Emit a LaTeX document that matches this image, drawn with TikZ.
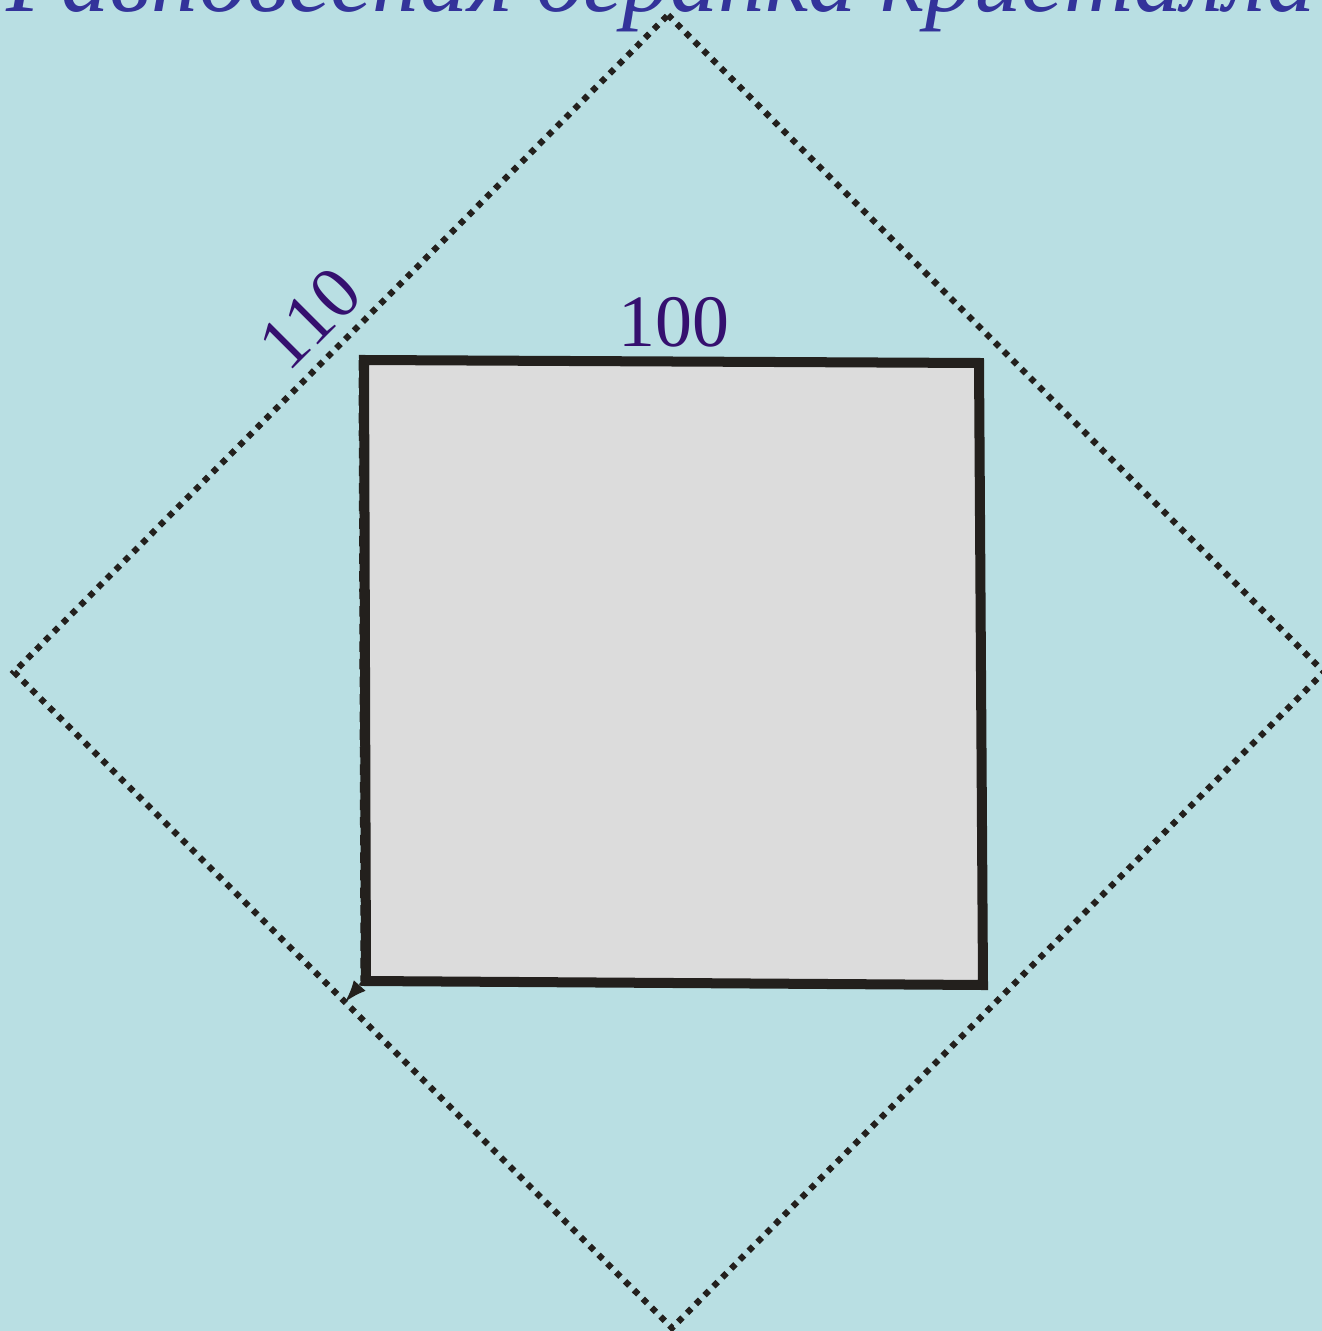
\documentclass[tikz,border=0pt]{standalone}
\usepackage{fontspec}
\setmainfont{Liberation Serif}
\usepackage{xcolor}
\usetikzlibrary{arrows.meta,calc}
\definecolor{cBack}{HTML}{B9DFE3}
\definecolor{cFace}{HTML}{DCDCDC}
\definecolor{cEdge}{HTML}{23201D}
\definecolor{cTitle}{HTML}{33339A}
\definecolor{cIdx}{HTML}{35106F}
\tikzset{
  face/.style  ={draw=cEdge, fill=cFace, line width=1mm, line join=miter},
  habit/.style ={draw=cEdge, line width=0.62mm, dash pattern=on 0.6mm off 0.65mm},
  idx/.style   ={text=cIdx, font=\fontsize{21}{21}\selectfont, inner sep=0pt},
  ttl/.style   ={text=cTitle, font=\fontsize{27.3}{28}\selectfont\itshape, inner sep=0pt},
  tip/.style   ={draw=cEdge, line width=0.3mm, densely dashed,
                 -{Latex[length=2.2mm,width=1.6mm]}},
}
\begin{document}
\begin{tikzpicture}[x=0.01cm,y=-0.01cm]
  \fill[cBack] (0,0) rectangle (1322,1331);
  \useasboundingbox (0,0) rectangle (1322,1331);
  \clip (0,0) rectangle (1322,1331);
  % outer dotted habit (110 faces)
  \coordinate (dT) at (668,15);
  \coordinate (dR) at (1324,672);
  \coordinate (dB) at (672,1328);
  \coordinate (dL) at (14,672);
  \draw[habit] (dT) -- (dR) -- (dB) -- (dL) -- cycle;
  % inner square (100 faces)
  \coordinate (sTL) at (364,360);
  \coordinate (sTR) at (979,363);
  \coordinate (sBR) at (983,985);
  \coordinate (sBL) at (366,981);
  \draw[tip] ($(sTL)+(-4,0)$) -- ($(sBL)+(-4,2)$) -- (345,1002);
  \draw[face] (sTL) -- (sTR) -- (sBR) -- (sBL) -- cycle;
  % labels
  \node[idx] (l100) at (674,322) {100};
  \node[idx,rotate=45] (l110) at (310,318) {110};
  \node[ttl,anchor=base west] (title) at (6,12) {Равновесная огранка кристалла};
\end{tikzpicture}
\end{document}
